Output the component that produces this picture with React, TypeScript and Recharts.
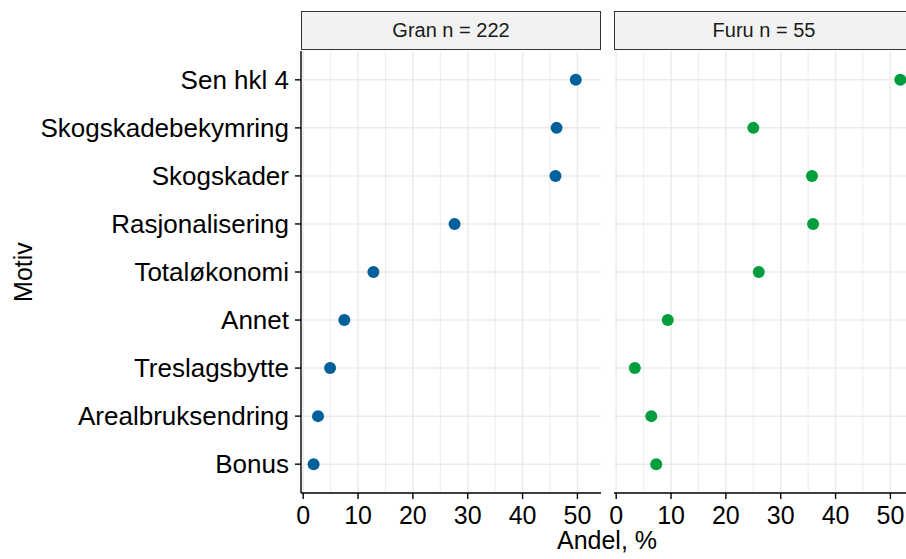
import { CartesianGrid, Scatter, ScatterChart, XAxis, YAxis } from "recharts";

const motiver = [
  "Sen hkl 4",
  "Skogskadebekymring",
  "Skogskader",
  "Rasjonalisering",
  "Totaløkonomi",
  "Annet",
  "Treslagsbytte",
  "Arealbruksendring",
  "Bonus",
];
const granAndel = [49.7, 46.2, 46.0, 27.6, 12.8, 7.5, 4.9, 2.7, 1.9];
const furuAndel = [51.8, 25.0, 35.7, 35.9, 26.0, 9.4, 3.4, 6.4, 7.3];
const paneler = ["Gran n = 222", "Furu n = 55"];
const xTicks = [0, 5, 10, 15, 20, 25, 30, 35, 40, 45, 50];
const yTicks = [1, 2, 3, 4, 5, 6, 7, 8, 9];

const FONT = "'Liberation Sans', Arial, Helvetica, sans-serif";
const GRID = "#ebebeb";

const lagData = (verdier: number[]) =>
  motiver.map((m, i) => ({ motiv: m, y: motiver.length - i, andel: verdier[i] }));

// tick labels only every 10, minor ticks still feed the grid
const XTick = (props: any) => {
  const { x, y, payload } = props;
  if (payload.value % 10 !== 0) return <g />;
  return (
    <g>
      <line x1={x} x2={x} y1={y - 13} y2={y - 7} stroke="#000" strokeWidth={1.4} />
      <text x={x} y={y} dy="0.71em" textAnchor="middle" fill="#000" fontSize={25} fontFamily={FONT}>
        {payload.value}
      </text>
    </g>
  );
};

const gridLine = (props: any) => (
  <line
    key={props.key}
    x1={props.x1}
    x2={props.x2}
    y1={props.y1}
    y2={props.y2}
    stroke={GRID}
    strokeWidth={props.index % 2 === 1 ? 0.9 : 1.5}
  />
);

const hLine = (props: any) => (
  <line key={props.key} x1={props.x1} x2={props.x2} y1={props.y1} y2={props.y2} stroke={GRID} strokeWidth={1.5} />
);

const Panel = ({ data, farge, visY }: { data: any[]; farge: string; visY: boolean }) => (
  <ScatterChart
    width={visY ? 601 : 314}
    height={559}
    margin={{ top: 51, right: 0, bottom: 0, left: visY ? 0 : 14 }}
  >
    <CartesianGrid
      vertical={gridLine}
      horizontal={hLine}
      verticalValues={xTicks}
      horizontalValues={yTicks}
      syncWithTicks={true}
    />
    <XAxis
      type="number"
      dataKey="andel"
      domain={[-0.4, 54.3]}
      ticks={xTicks}
      interval={0}
      height={66}
      tickSize={6}
      tickMargin={7}
      tickLine={false}
      tick={<XTick />}
      axisLine={{ stroke: "#000", strokeWidth: 1.4 }}
    />
    <YAxis
      type="number"
      dataKey="y"
      domain={[0.4, 9.6]}
      ticks={yTicks}
      interval={0}
      hide={!visY}
      width={visY ? 301 : 0}
      tickSize={6}
      tickMargin={6}
      tickFormatter={(v: number) => motiver[motiver.length - v]}
      tick={{ fill: "#000", fontSize: 26, fontFamily: FONT }}
      tickLine={{ stroke: "#000", strokeWidth: 1.4 }}
      axisLine={{ stroke: "#000", strokeWidth: 1.4 }}
    />
    <Scatter
      data={data}
      isAnimationActive={false}
      shape={(p: any) => <circle cx={p.cx} cy={p.cy} r={6} fill={farge} />}
    />
  </ScatterChart>
);

const Strip = ({ left, tekst }: { left: number; tekst: string }) => (
  <div
    style={{
      position: "absolute",
      left,
      top: 11,
      width: 300,
      height: 39,
      boxSizing: "border-box",
      border: "1.5px solid #333",
      background: "#f2f2f2",
      display: "flex",
      alignItems: "center",
      justifyContent: "center",
      fontFamily: FONT,
      fontSize: 20,
      color: "#1a1a1a",
    }}
  >
    {tekst}
  </div>
);

export default function App() {
  return (
    <div
      style={{
        position: "absolute",
        left: 0,
        top: 0,
        width: 906,
        height: 559,
        overflow: "hidden",
        background: "#fff",
      }}
    >
      <div style={{ position: "absolute", left: 0, top: 0 }}>
        <Panel data={lagData(granAndel)} farge="#00609c" visY={true} />
      </div>
      <div style={{ position: "absolute", left: 600, top: 0 }}>
        <Panel data={lagData(furuAndel)} farge="#009d3f" visY={false} />
      </div>
      <Strip left={301} tekst={paneler[0]} />
      <Strip left={614} tekst={paneler[1]} />
      <svg
        width={906}
        height={559}
        style={{ position: "absolute", left: 0, top: 0, pointerEvents: "none" }}
      >
        <text x={607} y={549} textAnchor="middle" fontSize={25} fontFamily={FONT} fill="#000">
          Andel, %
        </text>
        <text
          x={32}
          y={272}
          transform="rotate(-90 32 272)"
          textAnchor="middle"
          fontSize={25}
          fontFamily={FONT}
          fill="#000"
        >
          Motiv
        </text>
      </svg>
    </div>
  );
}
